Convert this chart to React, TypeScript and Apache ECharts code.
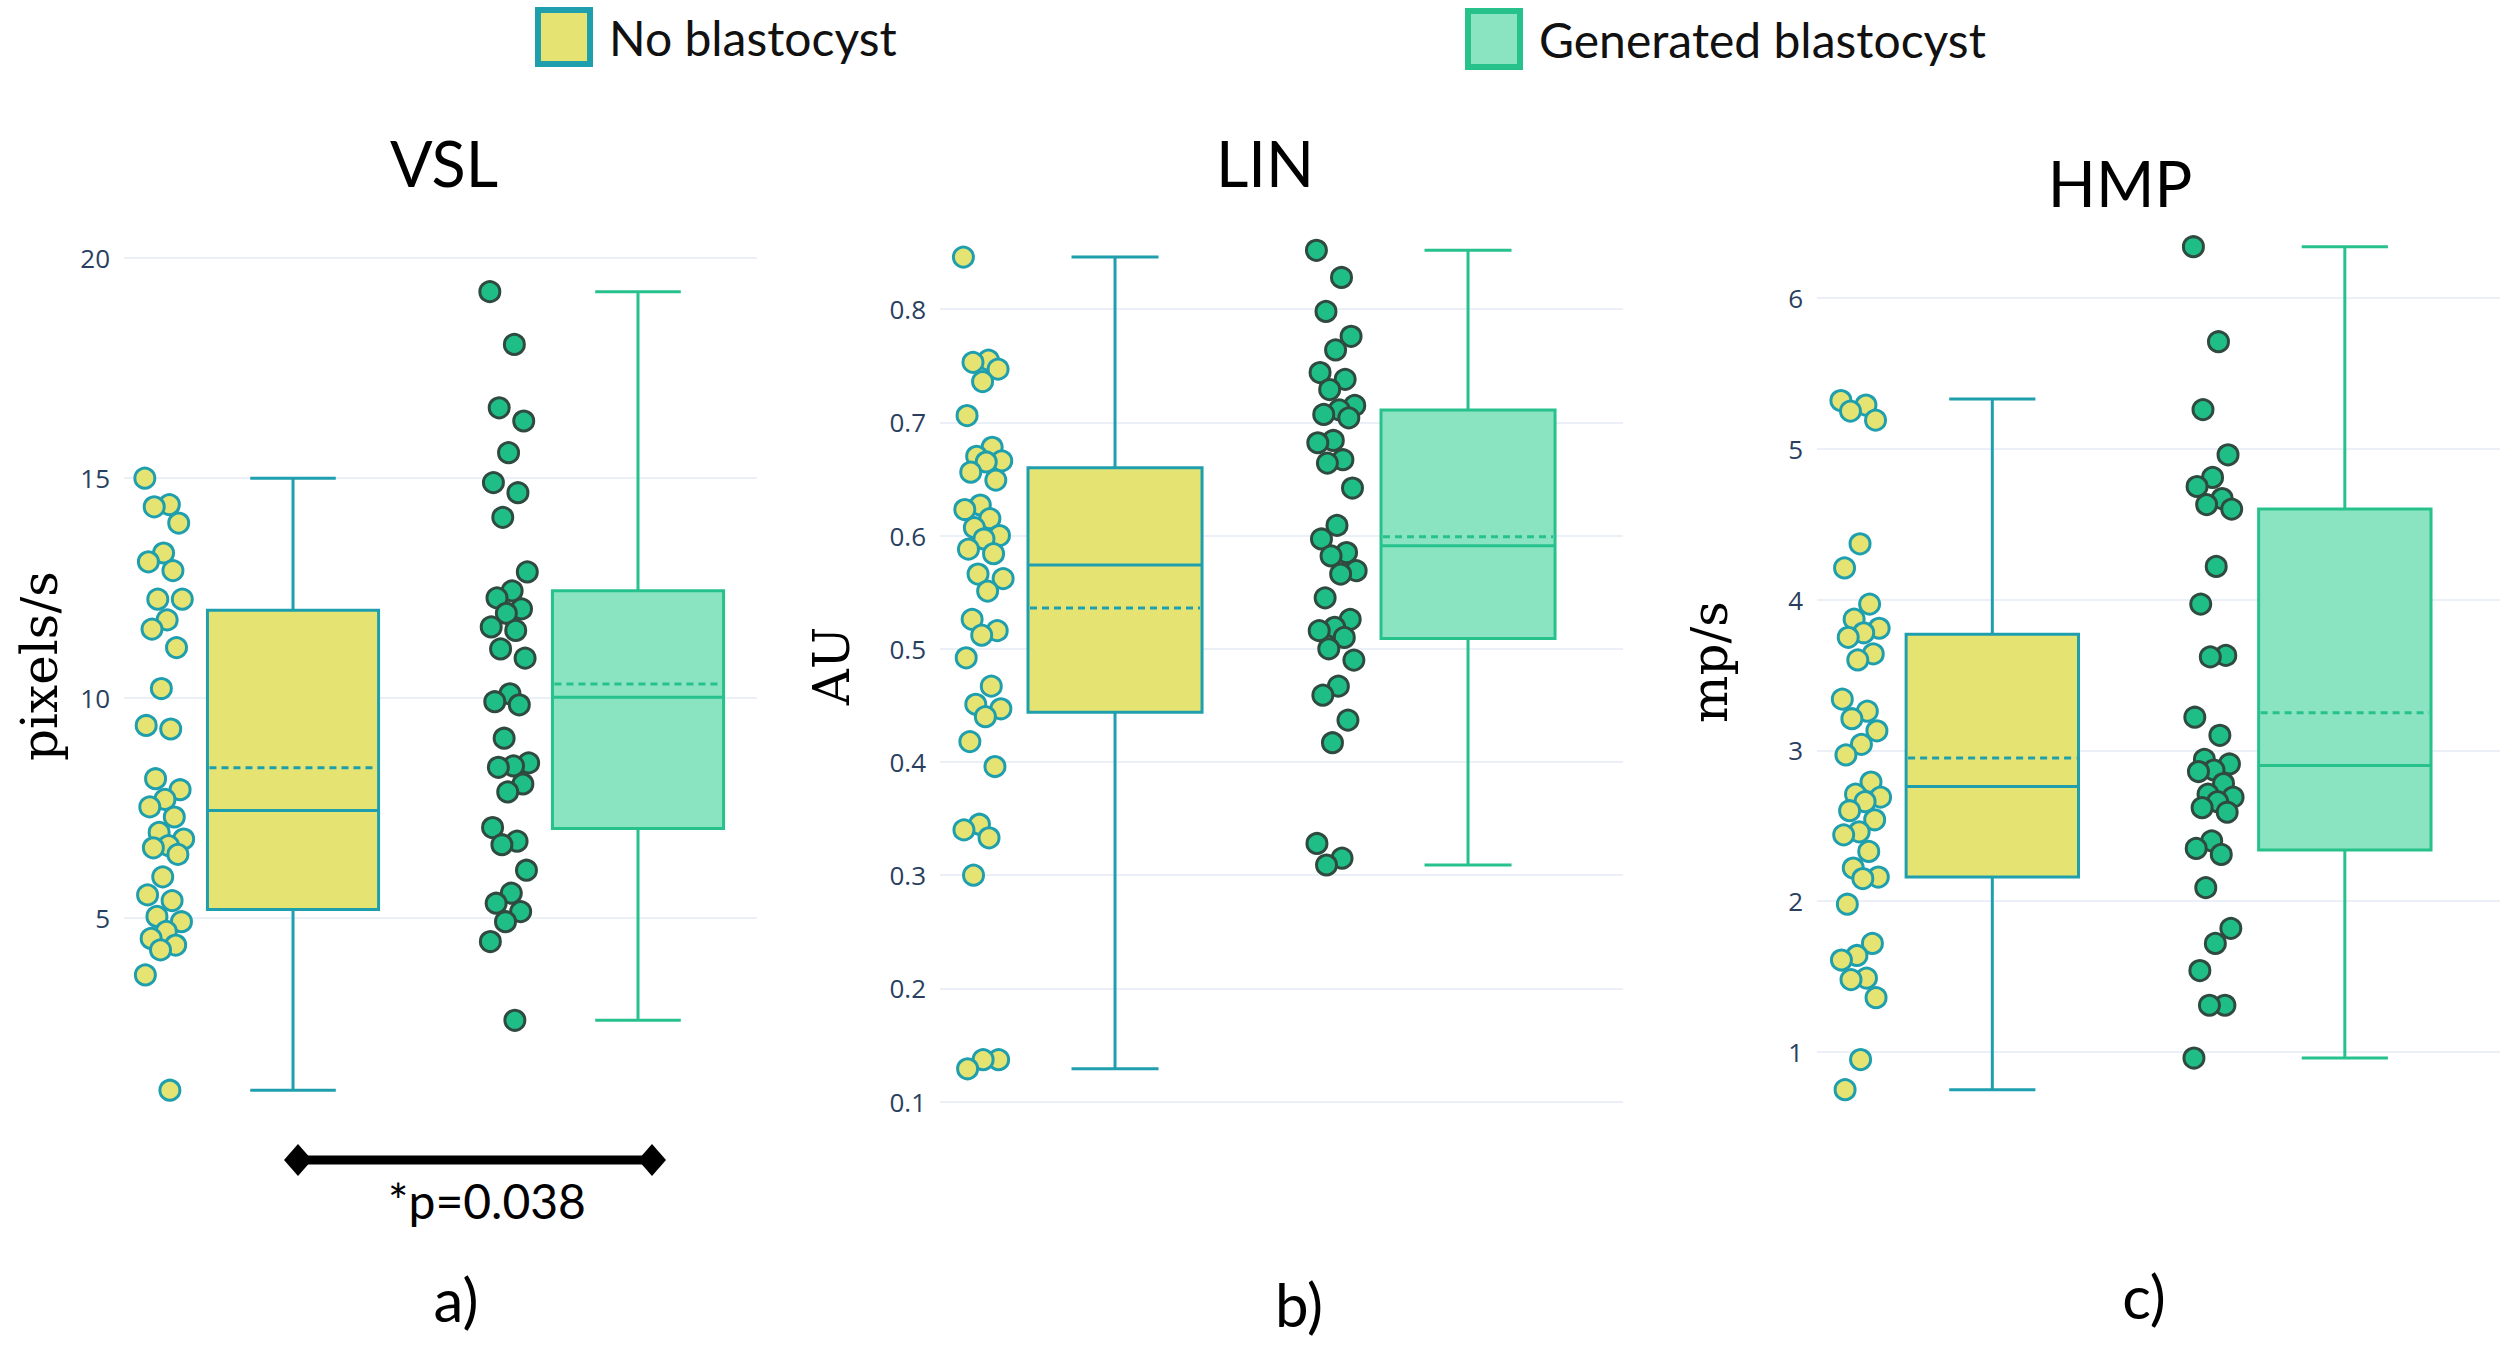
import React, { useEffect, useRef } from "react";
import * as echarts from "echarts";

// ---------- DATA ----------
const groups = ["No blastocyst", "Generated blastocyst"];
const panelTitles = ["VSL", "LIN", "HMP"];
const axisTitles = ["pixels/s", "AU", "mp/s"];
const panelLetters = ["a)", "b)", "c)"];
const significance = "*p=0.038";

const vslNo = [15.0, 14.4, 14.35, 13.98, 13.3, 13.1, 12.9, 12.25, 12.25, 11.78, 11.57, 11.15, 10.22, 9.38, 9.3, 8.17, 7.92, 7.7, 7.53, 7.3, 6.95, 6.8, 6.65, 6.6, 6.45, 5.94, 5.53, 5.4, 5.04, 4.92, 4.7, 4.54, 4.39, 4.28, 3.71, 1.09];
const vslGen = [19.24, 18.04, 16.6, 16.3, 15.58, 14.9, 14.67, 14.11, 12.87, 12.44, 12.28, 12.03, 11.93, 11.62, 11.54, 11.12, 10.91, 10.1, 9.92, 9.85, 9.09, 8.53, 8.46, 8.43, 8.05, 7.87, 7.06, 6.75, 6.67, 6.09, 5.57, 5.34, 5.15, 4.92, 4.47, 2.68];
const linNo = [0.846, 0.755, 0.753, 0.747, 0.736, 0.706, 0.678, 0.67, 0.666, 0.665, 0.656, 0.649, 0.627, 0.623, 0.615, 0.607, 0.6, 0.597, 0.588, 0.584, 0.566, 0.562, 0.551, 0.526, 0.516, 0.512, 0.492, 0.467, 0.451, 0.447, 0.44, 0.418, 0.396, 0.345, 0.34, 0.333, 0.3, 0.137, 0.137, 0.129];
const linGen = [0.852, 0.828, 0.798, 0.776, 0.764, 0.744, 0.738, 0.729, 0.715, 0.711, 0.707, 0.704, 0.684, 0.682, 0.667, 0.664, 0.642, 0.609, 0.597, 0.585, 0.582, 0.569, 0.566, 0.545, 0.526, 0.519, 0.516, 0.51, 0.5, 0.49, 0.467, 0.459, 0.437, 0.417, 0.328, 0.315, 0.309];
const hmpNo = [5.32, 5.29, 5.25, 5.19, 4.37, 4.21, 3.97, 3.87, 3.81, 3.78, 3.75, 3.64, 3.6, 3.34, 3.26, 3.21, 3.13, 3.04, 2.97, 2.79, 2.71, 2.69, 2.66, 2.6, 2.54, 2.46, 2.44, 2.33, 2.22, 2.16, 2.15, 1.98, 1.72, 1.64, 1.61, 1.49, 1.48, 1.36, 0.95, 0.75];
const hmpGen = [6.34, 5.71, 5.26, 4.96, 4.81, 4.75, 4.67, 4.63, 4.6, 4.22, 3.97, 3.63, 3.62, 3.22, 3.1, 2.94, 2.91, 2.87, 2.86, 2.78, 2.71, 2.69, 2.66, 2.62, 2.59, 2.4, 2.35, 2.31, 2.09, 1.82, 1.72, 1.54, 1.31, 1.31, 0.96];

// box statistics: [min, Q1, median, Q3, max]
const vslNoBox = [1.09, 5.2, 7.45, 12.0, 15.0];
const vslGenBox = [2.68, 7.04, 10.02, 12.44, 19.24];
const linNoBox = [0.129, 0.444, 0.574, 0.66, 0.846];
const linGenBox = [0.309, 0.509, 0.591, 0.711, 0.852];
const hmpNoBox = [0.75, 2.16, 2.76, 3.77, 5.33];
const hmpGenBox = [0.96, 2.34, 2.9, 4.6, 6.34];
const vslMeans = [8.42, 10.32];
const linMeans = [0.536, 0.599];
const hmpMeans = [2.95, 3.25];

// y-axis ticks
const vslTicks = { min: 0, max: 20.4, interval: 5 };
const linTicks = { min: 0, max: 0.88, interval: 0.1 };
const hmpTicks = { min: 0, max: 6.5, interval: 1 };

// ---------- STYLE / LAYOUT ----------
const YELLOW_FILL = "#e5e472";
const TEAL = "#1f9fae";
const GREEN_FILL = "#8be4c1";
const GREEN_LINE = "#27c18c";
const GREEN_POINT = "#1fbe86";
const GREEN_POINT_BORDER = "#2f4a40";
const TICK_COLOR = "#2a3f5f";
const GRID_COLOR = "#ebf0f8";

const layout = [
  { grid: { left: 124, top: 240.6, width: 633, height: 897.6 }, x: [0.5101, 2.3449], boxW: 0.496 },
  { grid: { left: 940, top: 218.6, width: 683, height: 996.2 }, x: [0.5042, 2.439], boxW: 0.493 },
  { grid: { left: 1817, top: 222.6, width: 713, height: 980.2 }, x: [0.5027, 2.4402], boxW: 0.489 },
];
const POINT_OFFSET = -0.372;
const JITTER_WIDTH = 0.115;

function jitter(i: number) {
  const f = (i * 0.6180339887) % 1;
  return (f - 0.5) * JITTER_WIDTH;
}

function boxSeries(name: string, panel: number, xPos: number, stats: number[], mean: number, fill: string, stroke: string, boxW: number) {
  return {
    type: "custom",
    name,
    xAxisIndex: panel,
    yAxisIndex: panel,
    z: 2,
    itemStyle: { color: fill, borderColor: stroke },
    data: [[xPos, ...stats, mean]],
    renderItem: (params: any, api: any) => {
      const x = api.value(0);
      const w = api.size([boxW, 0])[0];
      const c = (v: number) => api.coord([x, v]);
      const pMin = c(api.value(1));
      const pQ1 = c(api.value(2));
      const pMed = c(api.value(3));
      const pQ3 = c(api.value(4));
      const pMax = c(api.value(5));
      const pMean = c(api.value(6));
      const cx = pMed[0];
      const l = cx - w / 2;
      const r = cx + w / 2;
      const lw = 3;
      const ln = (x1: number, y1: number, x2: number, y2: number, dash?: number[]) => ({
        type: "line",
        shape: { x1, y1, x2, y2 },
        style: { stroke, lineWidth: lw, lineDash: dash || null, fill: null },
      });
      return {
        type: "group",
        children: [
          ln(cx, pQ3[1], cx, pMax[1]),
          ln(cx - w / 4, pMax[1], cx + w / 4, pMax[1]),
          ln(cx, pQ1[1], cx, pMin[1]),
          ln(cx - w / 4, pMin[1], cx + w / 4, pMin[1]),
          {
            type: "rect",
            shape: { x: l, y: pQ3[1], width: w, height: pQ1[1] - pQ3[1] },
            style: { fill, stroke, lineWidth: lw },
          },
          ln(l, pMed[1], r, pMed[1]),
          ln(l + 2, pMean[1], r - 2, pMean[1], [7, 5]),
        ],
      };
    },
  };
}

function pointSeries(name: string, panel: number, xPos: number, values: number[], fill: string, border: string) {
  return {
    type: "scatter",
    name,
    xAxisIndex: panel,
    yAxisIndex: panel,
    z: 3,
    symbol: "circle",
    symbolSize: 20,
    itemStyle: { color: fill, borderColor: border, borderWidth: 3, opacity: 1 },
    data: values.map((v, i) => [xPos + POINT_OFFSET + jitter(i), v]),
  };
}

const App: React.FC = () => {
  const ref = useRef<HTMLDivElement>(null);

  useEffect(() => {
    document.body.style.margin = "0";
    if (!ref.current) return;
    const chart = echarts.init(ref.current, null, { renderer: "svg" });

    const panelData = [
      { no: vslNo, gen: vslGen, noBox: vslNoBox, genBox: vslGenBox, means: vslMeans, ticks: vslTicks },
      { no: linNo, gen: linGen, noBox: linNoBox, genBox: linGenBox, means: linMeans, ticks: linTicks },
      { no: hmpNo, gen: hmpGen, noBox: hmpNoBox, genBox: hmpGenBox, means: hmpMeans, ticks: hmpTicks },
    ];

    const series: any[] = [];
    panelData.forEach((p, i) => {
      const bw = layout[i].boxW;
      series.push(boxSeries(groups[0], i, 1, p.noBox, p.means[0], YELLOW_FILL, TEAL, bw));
      series.push(boxSeries(groups[1], i, 2, p.genBox, p.means[1], GREEN_FILL, GREEN_LINE, bw));
      series.push(pointSeries(groups[0], i, 1, p.no, YELLOW_FILL, TEAL));
      series.push(pointSeries(groups[1], i, 2, p.gen, GREEN_POINT, GREEN_POINT_BORDER));
    });

    const titlePos = [
      [444, 162],
      [1265, 162],
      [2120, 182],
    ];
    const axisTitlePos = [
      [40, 666],
      [832, 666],
      [1710, 662],
    ];
    const letterPos = [
      [456, 1299],
      [1299, 1304],
      [2144, 1296],
    ];

    const graphic: any[] = [];
    panelTitles.forEach((t, i) => {
      graphic.push({
        type: "text",
        x: titlePos[i][0],
        y: titlePos[i][1],
        style: { text: t, fontFamily: "Lato", fontSize: 63, fill: "#000", align: "center", verticalAlign: "middle" },
      });
      graphic.push({
        type: "text",
        x: axisTitlePos[i][0],
        y: axisTitlePos[i][1],
        rotation: Math.PI / 2,
        style: { text: axisTitles[i], fontFamily: "DejaVu Serif", fontSize: 50, fill: "#000", align: "center", verticalAlign: "middle" },
      });
      graphic.push({
        type: "text",
        x: letterPos[i][0],
        y: letterPos[i][1],
        style: { text: panelLetters[i], fontFamily: "Lato", fontSize: 60, fill: "#000", align: "center", verticalAlign: "middle" },
      });
    });
    // significance bracket
    const by = 1160;
    const bx1 = 298;
    const bx2 = 652;
    graphic.push({ type: "line", shape: { x1: bx1, y1: by, x2: bx2, y2: by }, style: { stroke: "#000", lineWidth: 9 } });
    [bx1, bx2].forEach((bx) => {
      graphic.push({
        type: "polygon",
        shape: { points: [[bx - 14, by], [bx, by - 16], [bx + 14, by], [bx, by + 16]] },
        style: { fill: "#000" },
      });
    });
    graphic.push({
      type: "text",
      x: 487,
      y: 1200,
      style: { text: significance, fontFamily: "Lato", fontSize: 48, fill: "#000", align: "center", verticalAlign: "middle" },
    });

    const legendText = { fontFamily: "Lato", fontSize: 48, color: "#111", padding: [0, 0, 0, 14] };

    chart.setOption({
      animation: false,
      backgroundColor: "#fff",
      legend: [
        {
          left: 530,
          top: 2,
          itemWidth: 52,
          itemHeight: 54,
          selectedMode: false,
          textStyle: legendText,
          data: [{ name: groups[0], icon: "rect", itemStyle: { color: YELLOW_FILL, borderColor: TEAL, borderWidth: 6 } }],
        },
        {
          left: 1460,
          top: 3,
          itemWidth: 52,
          itemHeight: 56,
          selectedMode: false,
          textStyle: legendText,
          data: [{ name: groups[1], icon: "rect", itemStyle: { color: GREEN_FILL, borderColor: GREEN_LINE, borderWidth: 6 } }],
        },
      ],
      grid: layout.map((l) => ({ ...l.grid, containLabel: false })),
      xAxis: layout.map((l, i) => ({ type: "value", gridIndex: i, min: l.x[0], max: l.x[1], show: false })),
      yAxis: panelData.map((p, i) => ({
        type: "value",
        gridIndex: i,
        min: p.ticks.min,
        max: p.ticks.max,
        interval: p.ticks.interval,
        axisLine: { show: false },
        axisTick: { show: false },
        axisLabel: {
          showMinLabel: false,
          showMaxLabel: false,
          margin: 14,
          fontFamily: "Open Sans",
          fontSize: 26,
          color: TICK_COLOR,
          formatter: (v: number) => String(Math.round(v * 100) / 100),
        },
        splitLine: { show: true, showMinLine: false, showMaxLine: false, lineStyle: { color: GRID_COLOR, width: 2 } },
      })),
      series,
      graphic,
    });

    return () => chart.dispose();
  }, []);

  return <div ref={ref} style={{ width: 2500, height: 1345, background: "#fff" }} />;
};

export default App;
